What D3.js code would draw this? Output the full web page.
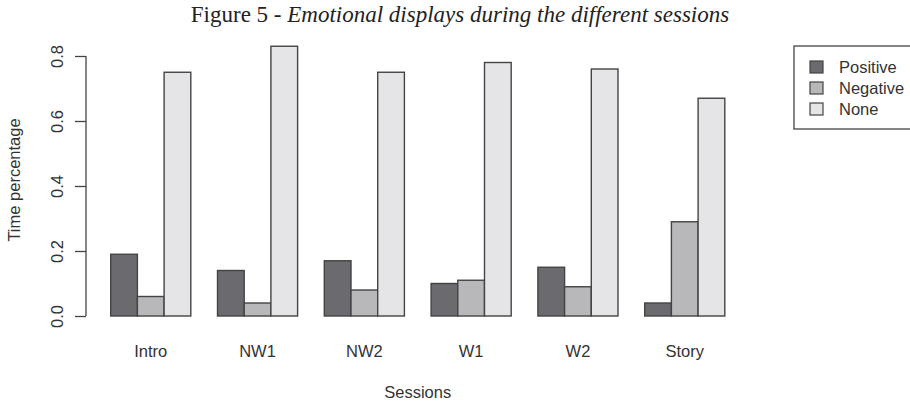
<!DOCTYPE html>
<html>
<head>
<meta charset="utf-8">
<script src="https://cdn.jsdelivr.net/npm/d3@7"></script>
<style>
  body { margin: 0; background: #fff; }
  svg text { font-family: "Liberation Sans", Arial, sans-serif; fill: #333; }
  .title { font-family: "Liberation Serif", "DejaVu Serif", serif; font-size: 23px; fill: #222; }
</style>
</head>
<body>
<div id="chart"></div>
<script>
// data
var sessions = ["Intro", "NW1", "NW2", "W1", "W2", "Story"];
var seriesNames = ["Positive", "Negative", "None"];
var positive = [0.19, 0.14, 0.17, 0.10, 0.15, 0.04];
var negative = [0.06, 0.04, 0.08, 0.11, 0.09, 0.29];
var none = [0.75, 0.83, 0.75, 0.78, 0.76, 0.67];
var yTicks = [0.0, 0.2, 0.4, 0.6, 0.8];

var series = [positive, negative, none];
var colors = ["#6b6b6f", "#b8b8bb", "#e5e5e7"];

var width = 910, height = 404;
var fs = "16.5px";

var svg = d3.select("#chart").append("svg")
    .attr("width", width)
    .attr("height", height);

// R style barplot: each group = 3 bars + 1 bar space, unit positions
var x = d3.scaleLinear().domain([1, 24]).range([110.7, 724.8]);
var y = d3.scaleLinear().domain([0, 0.8]).range([316, 56]);

// bars
var bars = [];
sessions.forEach(function (s, i) {
    series.forEach(function (vals, j) {
        bars.push({ u: 1 + i * 4 + j, v: vals[i], k: j });
    });
});

svg.append("g").selectAll("rect")
    .data(bars)
    .enter().append("rect")
    .attr("x", function (d) { return x(d.u); })
    .attr("width", function (d) { return x(d.u + 1) - x(d.u); })
    .attr("y", function (d) { return y(d.v); })
    .attr("height", function (d) { return y(0) - y(d.v); })
    .attr("fill", function (d) { return colors[d.k]; })
    .attr("stroke", "#444")
    .attr("stroke-width", 1.4);

// y axis
var yAxis = svg.append("g")
    .attr("transform", "translate(86,0)")
    .call(d3.axisLeft(y).tickValues(yTicks).tickFormat(d3.format(".1f")).tickSizeOuter(0).tickSize(11));
yAxis.select(".domain").attr("stroke", "#444").attr("stroke-width", 1.3)
    .attr("d", "M0," + y(0) + "V" + y(0.8));
yAxis.selectAll(".tick line").attr("stroke", "#444").attr("stroke-width", 1.3);
yAxis.selectAll(".tick text")
    .attr("x", 0).attr("dy", 0)
    .attr("transform", "translate(-23,0) rotate(-90)")
    .attr("text-anchor", "middle")
    .style("font-size", fs)
    .style("font-family", "Liberation Sans, Arial, sans-serif")
    .attr("fill", "#333");

// x labels
svg.append("g").selectAll("text")
    .data(sessions)
    .enter().append("text")
    .attr("x", function (d, i) { return x(1 + i * 4 + 1.5); })
    .attr("y", 357)
    .attr("text-anchor", "middle")
    .style("font-size", fs)
    .text(function (d) { return d; });

// axis titles
svg.append("text")
    .attr("x", x(12.5)).attr("y", 398)
    .attr("text-anchor", "middle")
    .style("font-size", fs)
    .text("Sessions");

svg.append("text")
    .attr("transform", "translate(20,180) rotate(-90)")
    .attr("text-anchor", "middle")
    .style("font-size", fs)
    .text("Time percentage");

// title
var title = svg.append("text")
    .attr("class", "title")
    .attr("x", 460).attr("y", 22)
    .attr("text-anchor", "middle");
title.append("tspan").text("Figure 5 - ");
title.append("tspan").style("font-style", "italic").text("Emotional displays during the different sessions");

// legend
var legend = svg.append("g");
legend.append("rect")
    .attr("x", 794).attr("y", 46)
    .attr("width", 130).attr("height", 83)
    .attr("fill", "none")
    .attr("stroke", "#444")
    .attr("stroke-width", 1.3);

var items = legend.selectAll("g.item")
    .data(seriesNames)
    .enter().append("g")
    .attr("class", "item")
    .attr("transform", function (d, i) { return "translate(0," + (67 + i * 21) + ")"; });
items.append("rect")
    .attr("x", 810).attr("y", -6)
    .attr("width", 13).attr("height", 12)
    .attr("fill", function (d, i) { return colors[i]; })
    .attr("stroke", "#444")
    .attr("stroke-width", 1.2);
items.append("text")
    .attr("x", 839).attr("y", 6)
    .style("font-size", fs)
    .text(function (d) { return d; });
</script>
</body>
</html>
